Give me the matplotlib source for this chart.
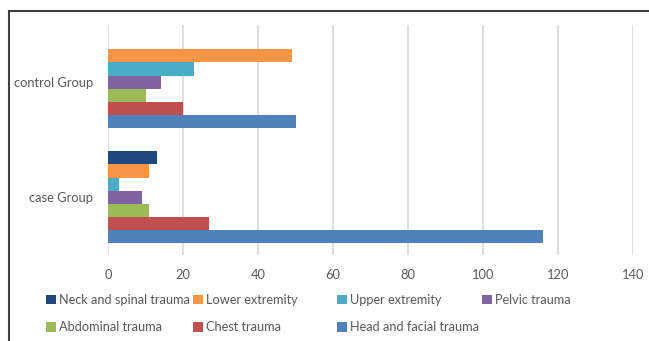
import matplotlib
matplotlib.use("Agg")
import matplotlib.pyplot as plt
from matplotlib.patches import Patch, Rectangle
import numpy as np

plt.rcParams['font.family'] = ['Lato', 'DejaVu Sans']

groups = ["case Group", "control Group"]
# series in plotting order (bottom to top within each group)
series = ["Head and facial trauma", "Chest trauma", "Abdominal trauma",
          "Pelvic trauma", "Upper extremity", "Lower extremity",
          "Neck and spinal trauma"]
head = [116, 50]
chest = [27, 20]
abdominal = [11, 10]
pelvic = [9, 14]
upper = [3, 23]
lower = [11, 49]
neck = [13, 0]
values = [head, chest, abdominal, pelvic, upper, lower, neck]
colors = ["#4F81BD", "#C0504D", "#9BBB59", "#8064A2", "#4BACC6",
          "#F79646", "#1F497D"]
xticks = [0, 20, 40, 60, 80, 100, 120, 140]

W, H = 649, 341
fig = plt.figure(figsize=(W / 100, H / 100), dpi=100)
ax = fig.add_axes([108 / W, 1 - 255 / H, (633 - 108) / W, (255 - 24.5) / H])

n = len(series)
group_w = 0.8
bh = group_w / n
y = np.arange(len(groups))
for i, (name, vals, c) in enumerate(zip(series, values, colors)):
    offs = -group_w / 2 + bh * (i + 0.5)
    ax.barh(y + offs, vals, height=bh, color=c, label=name, linewidth=0)

ax.set_ylim(-0.5, 1.5)
ax.set_xlim(0, 140)
ax.set_xticks(xticks)
ax.set_yticks(y)
ax.set_yticklabels(groups)
ax.grid(axis='x', color='#D9D9D9', linewidth=1.2)
ax.set_axisbelow(True)
for s in ax.spines.values():
    s.set_visible(False)
ax.tick_params(axis='both', length=0, colors='#595959', labelsize=9.3)
ax.tick_params(axis='x', pad=10)
ax.tick_params(axis='y', pad=11)

# legend, row-wise like Excel
handles = {name: Patch(facecolor=c) for name, c in zip(series, colors)}
legend_cols = [
    (46, ["Neck and spinal trauma", "Abdominal trauma"]),
    (193, ["Lower extremity", "Chest trauma"]),
    (337, ["Upper extremity", "Head and facial trauma"]),
    (482, ["Pelvic trauma"]),
]
for xpx, names in legend_cols:
    leg = fig.legend([handles[nm] for nm in names], names,
                     loc='upper left', bbox_to_anchor=(xpx / W, 1 - 294 / H),
                     frameon=False, fontsize=9.2, handlelength=0.75,
                     handleheight=0.75, handletextpad=0.3, labelspacing=1.2,
                     borderaxespad=0, borderpad=0)
    for t in leg.get_texts():
        t.set_color('#595959')

# outer frame
fig.add_artist(Rectangle((8.5 / W, -0.1), 1.2, 1 - 10.7 / H + 0.1,
                         transform=fig.transFigure, fill=False,
                         edgecolor='#404040', linewidth=1.5))

fig.savefig("out.png", dpi=100)
